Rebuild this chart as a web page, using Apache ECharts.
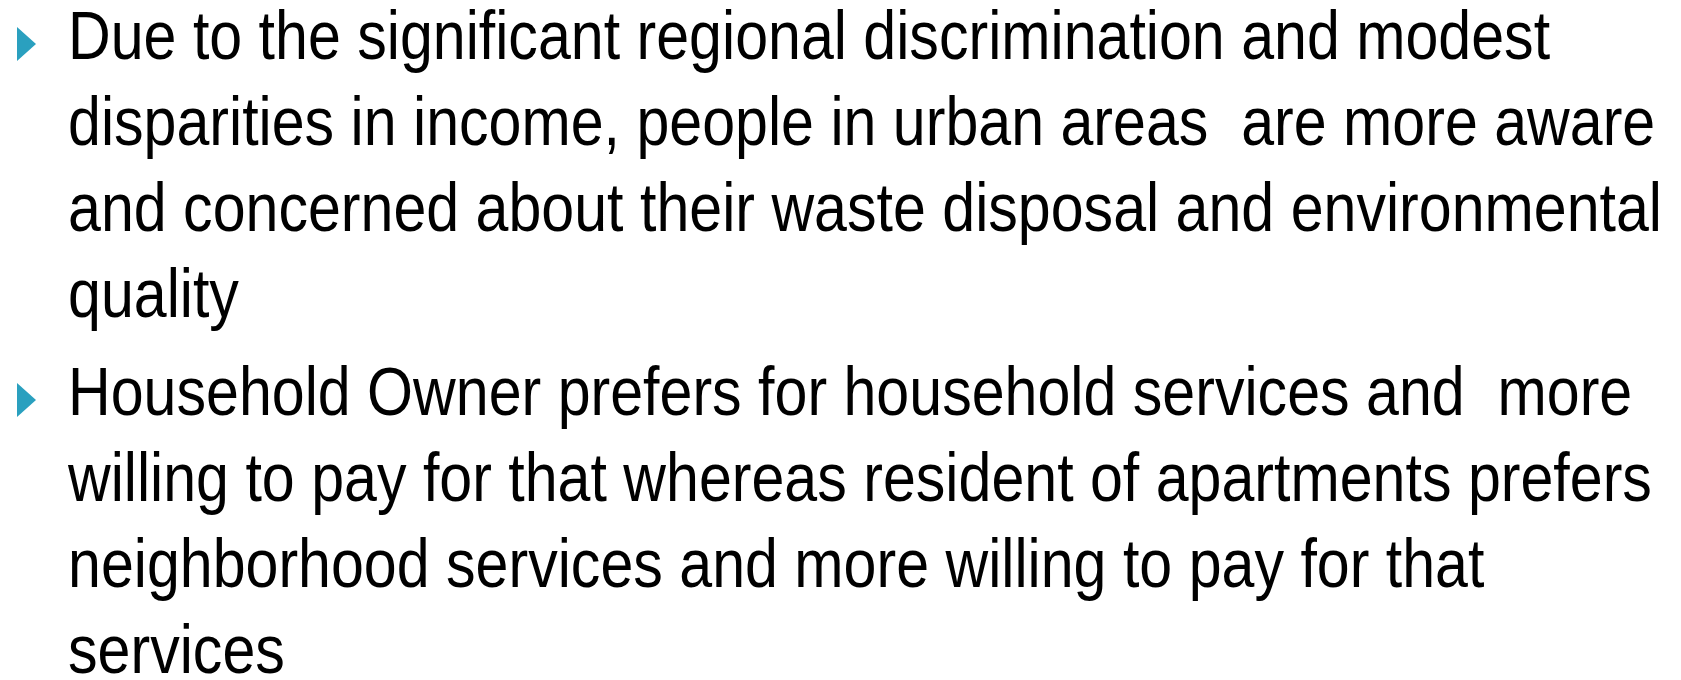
<!DOCTYPE html>
<html>
<head>
<meta charset="utf-8">
<script src="https://cdn.jsdelivr.net/npm/echarts@6/dist/echarts.min.js"></script>
<style>
  html, body { margin: 0; padding: 0; background: #fff; }
  #main { width: 1681px; height: 680px; }
</style>
</head>
<body>
<div id="main"></div>
<script>
// slide text, one array per bullet
const bullet1Lines = [
  'Due to the significant regional discrimination and modest',
  'disparities in income, people in urban areas  are more aware',
  'and concerned about their waste disposal and environmental',
  'quality'
]
const bullet2Lines = [
  'Household Owner prefers for household services and  more',
  'willing to pay for that whereas resident of apartments prefers',
  'neighborhood services and more willing to pay for that',
  'services'
]
const bullets = [bullet1Lines, bullet2Lines]

const chart = echarts.init(document.getElementById('main'))

const fontFamily = "'Liberation Sans', Arial, sans-serif"
const fontSize = 68
const textLeft = 68
const firstBaselines = [61, 417]   // baseline of first line of each bullet
const lineStep = 86
const baseShift = 0.2 * fontSize   // 'bottom' box sits below the baseline

// squeeze text so the widest line lands where it does on the slide
const ctx = document.createElement('canvas').getContext('2d')
ctx.font = fontSize + 'px ' + fontFamily
const targetWidth = 1662 - textLeft
const measured = ctx.measureText(bullet1Lines[2]).width
const sx = targetWidth / measured

const elements = []
bullets.forEach(function (lines, b) {
  const base = firstBaselines[b]
  elements.push({
    type: 'polygon',
    shape: { points: [[17, base - 34], [36, base - 17], [17, base]] },
    style: { fill: '#2aa0bf' }
  })
  lines.forEach(function (line, i) {
    elements.push({
      type: 'text',
      x: textLeft,
      y: base + i * lineStep + baseShift,
      scaleX: sx,
      style: {
        text: line,
        x: 0,
        y: 0,
        fill: '#000',
        font: fontSize + 'px ' + fontFamily,
        textAlign: 'left',
        textVerticalAlign: 'bottom'
      }
    })
  })
})

chart.setOption({
  backgroundColor: '#fff',
  animation: false,
  graphic: { elements: elements }
})
</script>
</body>
</html>
